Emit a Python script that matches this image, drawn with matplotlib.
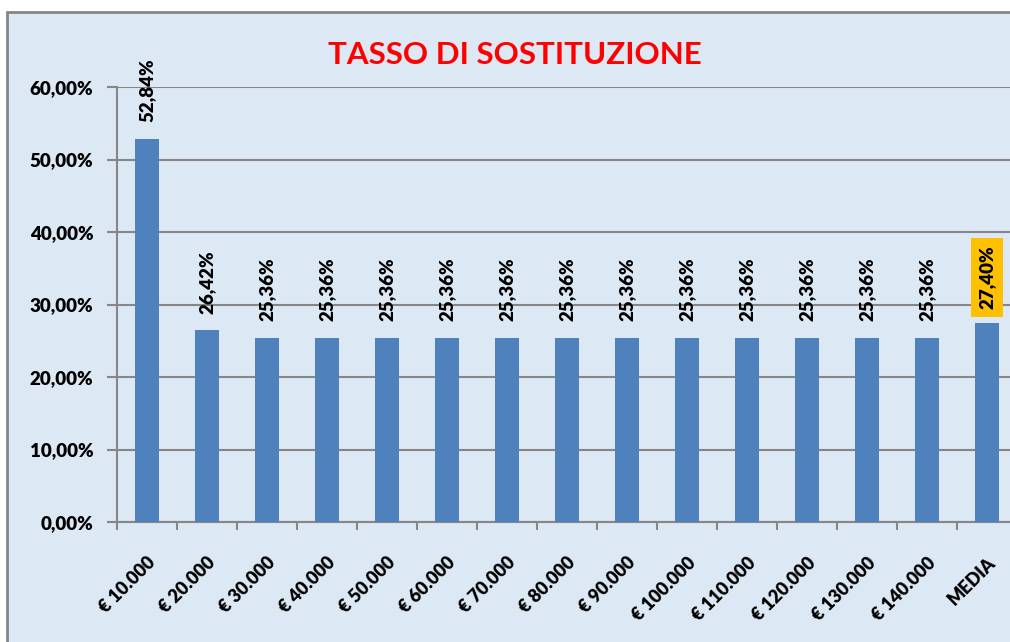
import matplotlib.pyplot as plt
import matplotlib.patches as patches
import numpy as np

categories = ['€ 10.000', '€ 20.000', '€ 30.000', '€ 40.000', '€ 50.000',
              '€ 60.000', '€ 70.000', '€ 80.000', '€ 90.000', '€ 100.000',
              '€ 110.000', '€ 120.000', '€ 130.000', '€ 140.000', 'MEDIA']
values = [52.84, 26.42, 25.36, 25.36, 25.36, 25.36, 25.36, 25.36, 25.36,
          25.36, 25.36, 25.36, 25.36, 25.36, 27.40]
labels = ['52,84%', '26,42%', '25,36%', '25,36%', '25,36%', '25,36%', '25,36%',
          '25,36%', '25,36%', '25,36%', '25,36%', '25,36%', '25,36%', '25,36%',
          '27,40%']
yticks = [0, 10, 20, 30, 40, 50, 60]
ytick_labels = ['0,00%', '10,00%', '20,00%', '30,00%', '40,00%', '50,00%', '60,00%']

plt.rcParams['font.family'] = ['Lato', 'DejaVu Sans']
grey = '#868686'

fig = plt.figure(figsize=(10.1, 6.42), dpi=100, facecolor='white')

# chart area background and frame
bg = patches.Rectangle((7 / 1010, -0.1), 1.1, 1 - 12 / 642 + 0.1,
                       transform=fig.transFigure, facecolor='#dce8f4',
                       edgecolor=grey, linewidth=2, zorder=-10)
fig.patches.append(bg)

ax = fig.add_axes([117 / 1010, 1 - 522 / 642, 900 / 1010, (522 - 87) / 642])
ax.set_facecolor('none')
ax.set_zorder(2)

x = np.arange(len(categories))
ax.bar(x, values, width=0.4, color='#4F81BD', zorder=3)

for i, (v, lab) in enumerate(zip(values, labels)):
    if lab == '27,40%':
        ax.annotate(lab, (i, v), xytext=(0, 10), textcoords='offset points',
                    rotation=90, ha='center', va='bottom', fontsize=13.5,
                    fontweight='heavy', zorder=5,
                    bbox=dict(boxstyle='square,pad=0.4', facecolor='#FFC000',
                              edgecolor='none'))
    else:
        ax.annotate(lab, (i, v), xytext=(0, 12), textcoords='offset points',
                    rotation=90, ha='center', va='bottom', fontsize=13.5,
                    fontweight='heavy', zorder=5)

ax.set_xlim(-0.5, len(categories) - 0.5)
ax.set_ylim(0, 60)
ax.set_yticks(yticks)
ax.set_yticklabels(ytick_labels, fontsize=13.5, fontweight='heavy')
ax.yaxis.grid(True, color=grey, linewidth=1.5, zorder=1)
ax.set_axisbelow(True)
ax.tick_params(axis='y', length=7, width=1.5, color=grey, pad=10)

ax.set_xticks(x)
ax.set_xticklabels(categories, rotation=45, ha='right', rotation_mode='anchor',
                   fontsize=13, fontweight='heavy')
ax.set_xticks(np.arange(-0.5, len(categories)), minor=True)
ax.tick_params(axis='x', which='major', length=0, pad=23)
ax.tick_params(axis='x', which='minor', length=6, width=1.5, color=grey)

for s in ['top', 'right']:
    ax.spines[s].set_visible(False)
for s in ['left', 'bottom']:
    ax.spines[s].set_color(grey)
    ax.spines[s].set_linewidth(1.5)

fig.text(515 / 1010, 1 - 55 / 642, 'TASSO DI SOSTITUZIONE', color='#FF0000',
         fontsize=22.5, fontweight='bold', ha='center', va='center')

fig.savefig('out.png', dpi=100)
